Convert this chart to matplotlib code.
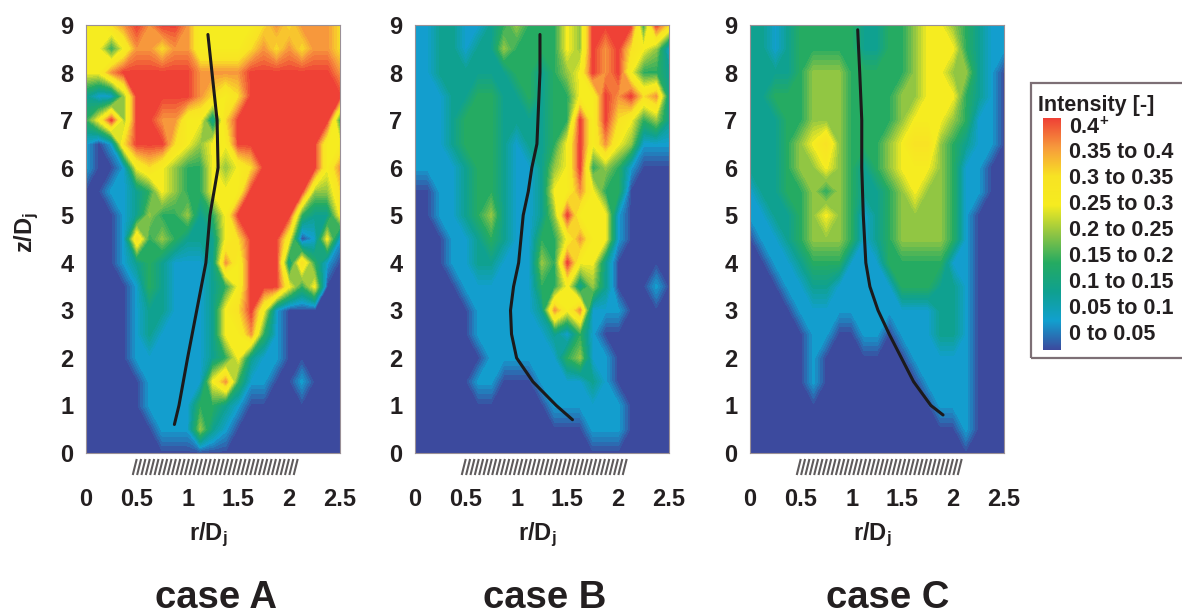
import numpy as np
import matplotlib
matplotlib.use("Agg")
import matplotlib.pyplot as plt
from matplotlib.colors import LinearSegmentedColormap, Normalize
from matplotlib.patches import Rectangle

plt.rcParams['font.family'] = ['Liberation Sans', 'DejaVu Sans']
plt.rcParams['font.weight'] = 'bold'
plt.rcParams['mathtext.fontset'] = 'custom'
plt.rcParams['mathtext.rm'] = 'Liberation Sans:bold'
plt.rcParams['mathtext.bf'] = 'Liberation Sans:bold'
plt.rcParams['mathtext.it'] = 'Liberation Sans:bold'

r_grid = [0, .125, .25, .375, .5, .625, .75, .875, 1, 1.125, 1.25, 1.375, 1.5, 1.625, 1.75, 1.875, 2, 2.125, 2.25, 2.375, 2.5]
z_grid = [9, 8.5, 8, 7.5, 7, 6.5, 6, 5.5, 5, 4.5, 4, 3.5, 3, 2.5, 2, 1.5, 1, .5, 0]

# intensity band (0: 0-0.05 ... 8: 0.4+), rows from z=9 down to z=0
case_a = [
 [5,5,6,7,8,7,8,8,7,5,5,5,5,5,6,7,6,7,7,7,6],
 [5,5,3,5,7,7,6,7,7,5,5,5,5,6,7,6,7,6,7,7,6],
 [5,5,7,8,8,8,8,8,8,7,7,7,7,8,8,8,8,8,8,8,7],
 [2,1,1,4,8,8,8,8,8,7,6,5,6,8,8,8,8,8,8,8,8],
 [3,5,8,4,8,8,7,7,5,5,2,6,8,8,8,8,8,8,8,8,3],
 [1,0,1,6,8,8,8,6,5,4,5,5,8,8,8,8,8,8,8,5,5],
 [1,0,0,1,5,6,5,4,3,3,5,4,5,6,8,8,8,8,8,5,7],
 [0,0,1,1,2,3,5,4,3,3,5,5,5,8,8,8,8,8,4,4,6],
 [0,0,0,1,2,4,3,3,4,2,3,5,8,8,8,8,8,3,2,2,5],
 [0,0,0,1,6,3,4,3,2,2,2,5,6,8,8,8,5,0,1,5,1],
 [0,0,0,1,2,3,2,1,1,1,2,7,5,8,8,8,2,6,3,1,0],
 [0,0,0,0,1,3,2,1,1,1,2,3,5,8,8,8,5,3,5,0,0],
 [0,0,0,0,1,2,2,1,1,1,2,5,6,8,5,1,0,0,0,0,0],
 [0,0,0,0,1,2,1,1,1,1,2,5,5,7,3,1,0,0,0,0,0],
 [0,0,0,0,1,1,1,1,1,1,2,3,5,2,1,1,0,0,0,0,0],
 [0,0,0,0,0,1,1,1,1,1,5,7,3,1,1,0,0,1,0,0,0],
 [0,0,0,0,0,1,1,1,1,3,3,2,1,0,0,0,0,0,0,0,0],
 [0,0,0,0,0,0,1,1,1,4,2,1,0,0,0,0,0,0,0,0,0],
 [0,0,0,0,0,0,0,0,0,0,0,0,0,0,0,0,0,0,0,0,0],
]
case_b = [
 [1,1,2,2,1,1,2,3,4,3,3,3,5,4,8,8,8,8,3,8,6],
 [1,1,2,2,1,2,2,4,3,3,3,3,5,4,8,7,8,6,5,4,1],
 [1,1,2,2,2,2,2,2,3,3,2,3,4,5,8,7,8,5,3,3,2],
 [1,1,1,2,2,3,3,2,2,3,2,3,3,5,5,8,7,8,6,7,2],
 [1,1,1,2,3,3,3,2,2,2,2,3,3,8,5,8,6,5,3,4,2],
 [1,1,1,2,3,3,3,2,1,2,2,3,5,8,5,7,5,4,1,1,1],
 [1,1,1,1,2,3,3,2,1,1,2,4,5,8,3,4,3,1,0,0,0],
 [0,0,1,1,2,3,3,2,1,1,2,5,5,7,5,3,3,0,0,0,0],
 [0,0,1,1,2,3,4,2,1,1,2,4,8,5,5,5,1,0,0,0,0],
 [0,0,0,1,1,2,3,2,1,1,3,3,5,7,5,5,1,0,0,0,0],
 [0,0,0,1,1,2,2,1,1,1,4,3,8,5,5,2,0,0,0,0,0],
 [0,0,0,0,1,1,1,1,1,1,3,3,5,2,4,2,0,0,0,1,0],
 [0,0,0,0,0,1,1,1,1,1,2,7,5,7,1,1,1,0,0,0,0],
 [0,0,0,0,0,1,1,1,1,1,1,2,1,3,1,0,0,0,0,0,0],
 [0,0,0,0,0,0,1,1,1,1,1,1,3,4,1,1,0,0,0,0,0],
 [0,0,0,0,0,1,1,0,0,0,1,1,1,1,2,1,0,0,0,0,0],
 [0,0,0,0,0,0,0,0,0,0,0,1,1,1,1,1,1,0,0,0,0],
 [0,0,0,0,0,0,0,0,0,0,0,0,0,0,1,1,1,0,0,0,0],
 [0,0,0,0,0,0,0,0,0,0,0,0,0,0,0,0,0,0,0,0,0],
]
case_c = [
 [2,2,1,2,3,3,3,3,3,2,2,3,3,4,5,5,4,3,2,1,1],
 [2,2,1,2,3,3,3,3,3,2,2,3,3,4,5,5,5,3,2,1,1],
 [2,2,2,2,3,4,4,4,3,3,3,3,3,4,5,5,4,4,2,1,0],
 [2,2,3,3,3,4,4,4,3,3,3,3,4,4,5,5,5,3,2,1,0],
 [2,2,2,3,3,4,4,4,3,3,3,3,4,5,5,5,4,3,1,1,0],
 [2,2,2,3,4,5,6,4,3,3,3,4,5,6,6,4,3,2,1,1,0],
 [2,2,2,3,4,4,5,4,3,2,3,4,5,5,5,4,3,1,1,0,0],
 [1,2,2,3,3,4,3,4,3,2,2,3,4,5,4,4,3,1,1,0,0],
 [1,1,2,2,3,4,5,4,3,1,2,3,4,4,4,4,3,1,0,0,0],
 [0,1,1,2,3,4,4,4,3,1,2,3,4,4,4,4,3,1,0,0,0],
 [0,0,1,1,2,3,3,3,1,1,1,3,3,3,3,3,1,1,0,0,0],
 [0,0,0,1,1,2,2,1,1,1,1,1,3,3,3,2,2,1,0,0,0],
 [0,0,0,0,1,1,1,1,1,1,1,1,1,1,1,2,2,1,0,0,0],
 [0,0,0,0,0,1,1,0,0,1,1,0,1,1,1,2,2,1,0,0,0],
 [0,0,0,0,0,1,0,0,0,0,0,0,0,1,1,1,1,1,0,0,0],
 [0,0,0,0,0,1,0,0,0,0,0,0,0,0,1,1,1,1,0,0,0],
 [0,0,0,0,0,0,0,0,0,0,0,0,0,0,0,1,1,1,0,0,0],
 [0,0,0,0,0,0,0,0,0,0,0,0,0,0,0,0,0,1,0,0,0],
 [0,0,0,0,0,0,0,0,0,0,0,0,0,0,0,0,0,0,0,0,0],
]

traj_a_r = [.87, .915, 1.0, 1.09, 1.18, 1.22, 1.30, 1.29, 1.24, 1.20]
traj_a_z = [.6, 1, 2, 3, 4, 5, 6, 7, 8, 8.8]
traj_b_r = [1.55, 1.39, 1.16, 1.0, .95, .94, .97, 1.02, 1.065, 1.115, 1.15, 1.2, 1.21, 1.23, 1.23]
traj_b_z = [.7, 1, 1.5, 2, 2.5, 3, 3.5, 4, 5, 5.5, 6, 6.5, 7, 8, 8.8]
traj_c_r = [1.90, 1.78, 1.61, 1.49, 1.37, 1.26, 1.18, 1.14, 1.115, 1.10, 1.10, 1.08, 1.06]
traj_c_z = [.8, 1, 1.5, 2, 2.5, 3, 3.5, 4, 5, 6, 7, 8, 8.9]

band_colors = ['#3c4a9e', '#12a0cf', '#0fa190', '#25ab62', '#8fc544', '#f6ec20', '#f8e324', '#f79a3c', '#ef4136']
band_labels = ['0 to 0.05', '0.05 to 0.1', '0.1 to 0.15', '0.15 to 0.2', '0.2 to 0.25',
               '0.25 to 0.3', '0.3 to 0.35', '0.35 to 0.4', '0.4$^{+}$']
case_names = ['case A', 'case B', 'case C']
x_ticks = [0, .5, 1, 1.5, 2, 2.5]
x_tick_labels = ['0', '0.5', '1', '1.5', '2', '2.5']
z_ticks = list(range(10))

W, H = 1182, 615
INK = '#231f20'
fig = plt.figure(figsize=(W / 100, H / 100), dpi=100, facecolor='white')
anchors = [(0, band_colors[0])] + [((b + .5) / 9, c) for b, c in enumerate(band_colors)] + [(1, band_colors[-1])]
cmap = LinearSegmentedColormap.from_list('bands', anchors, N=256)
levels = np.linspace(0, 9, 46)
norm = Normalize(0, 9)

def px_ax(x0, y0, x1, y1):
    return fig.add_axes([x0 / W, 1 - y1 / H, (x1 - x0) / W, (y1 - y0) / H])

lefts = [86, 415, 750]
panels = [(case_a, traj_a_r, traj_a_z), (case_b, traj_b_r, traj_b_z), (case_c, traj_c_r, traj_c_z)]
title_centers = [216, 545, 888]
for i, (left, (grid, tr, tz)) in enumerate(zip(lefts, panels)):
    ax = px_ax(left, 25, left + 254, 453)
    g = np.array(grid, float) + 0.5
    ax.contourf(r_grid, z_grid, g, levels=levels, cmap=cmap, norm=norm, antialiased=False)
    ax.plot(tr, tz, color='#1c1a1b', lw=2.2, solid_capstyle='round')
    ax.set_xlim(0, 2.5)
    ax.set_ylim(0, 9)
    ax.set_xticks(x_ticks, x_tick_labels)
    ax.set_yticks(z_ticks)
    ax.tick_params(length=0, labelsize=17, labelcolor=INK)
    ax.tick_params(axis='x', pad=25)
    ax.tick_params(axis='y', pad=9)
    for s in ax.spines.values():
        s.set_color('#9a9096')
        s.set_linewidth(0.8)
    fig.text((left + 122) / W, 1 - 535 / H, 'r/D$_{j}$', fontsize=17, color=INK, ha='center', va='center')
    if i == 0:
        fig.text(27 / W, 1 - 232 / H, 'z/D$_{j}$', fontsize=17, color=INK, ha='center', va='center', rotation=90)
    # hatched strip below the axis
    for x in np.arange(left + 47, left + 212, 4.35):
        fig.add_artist(plt.Line2D([x / W, (x + 3.5) / W], [1 - 474 / H, 1 - 460 / H],
                                  color='#5f5b5c', lw=1.5))
    fig.text(title_centers[i] / W, 1 - 598 / H, case_names[i], fontsize=27.5,
             color=INK, ha='center', va='center')

# legend
fig.add_artist(Rectangle((1031 / W, 1 - 358 / H), 200 / W, 275 / H, transform=fig.transFigure,
                         fc='none', ec='#7d6f75', lw=1.6))
fig.text(1038 / W, 1 - 105 / H, 'Intensity [-]', fontsize=15.5, color=INK, va='center')
cax = px_ax(1043, 118, 1061, 350)
cax.imshow(np.linspace(1, 0, 256)[:, None], aspect='auto',
           cmap=LinearSegmentedColormap.from_list('legend', band_colors))
cax.axis('off')
ys = [335, 309, 282, 256, 231, 205, 179, 153, 128]
for y, lab in zip(ys, band_labels):
    fig.text(1069 / W, 1 - y / H, lab, fontsize=15.5, color=INK, va='center')

fig.savefig('out.png', dpi=100)
